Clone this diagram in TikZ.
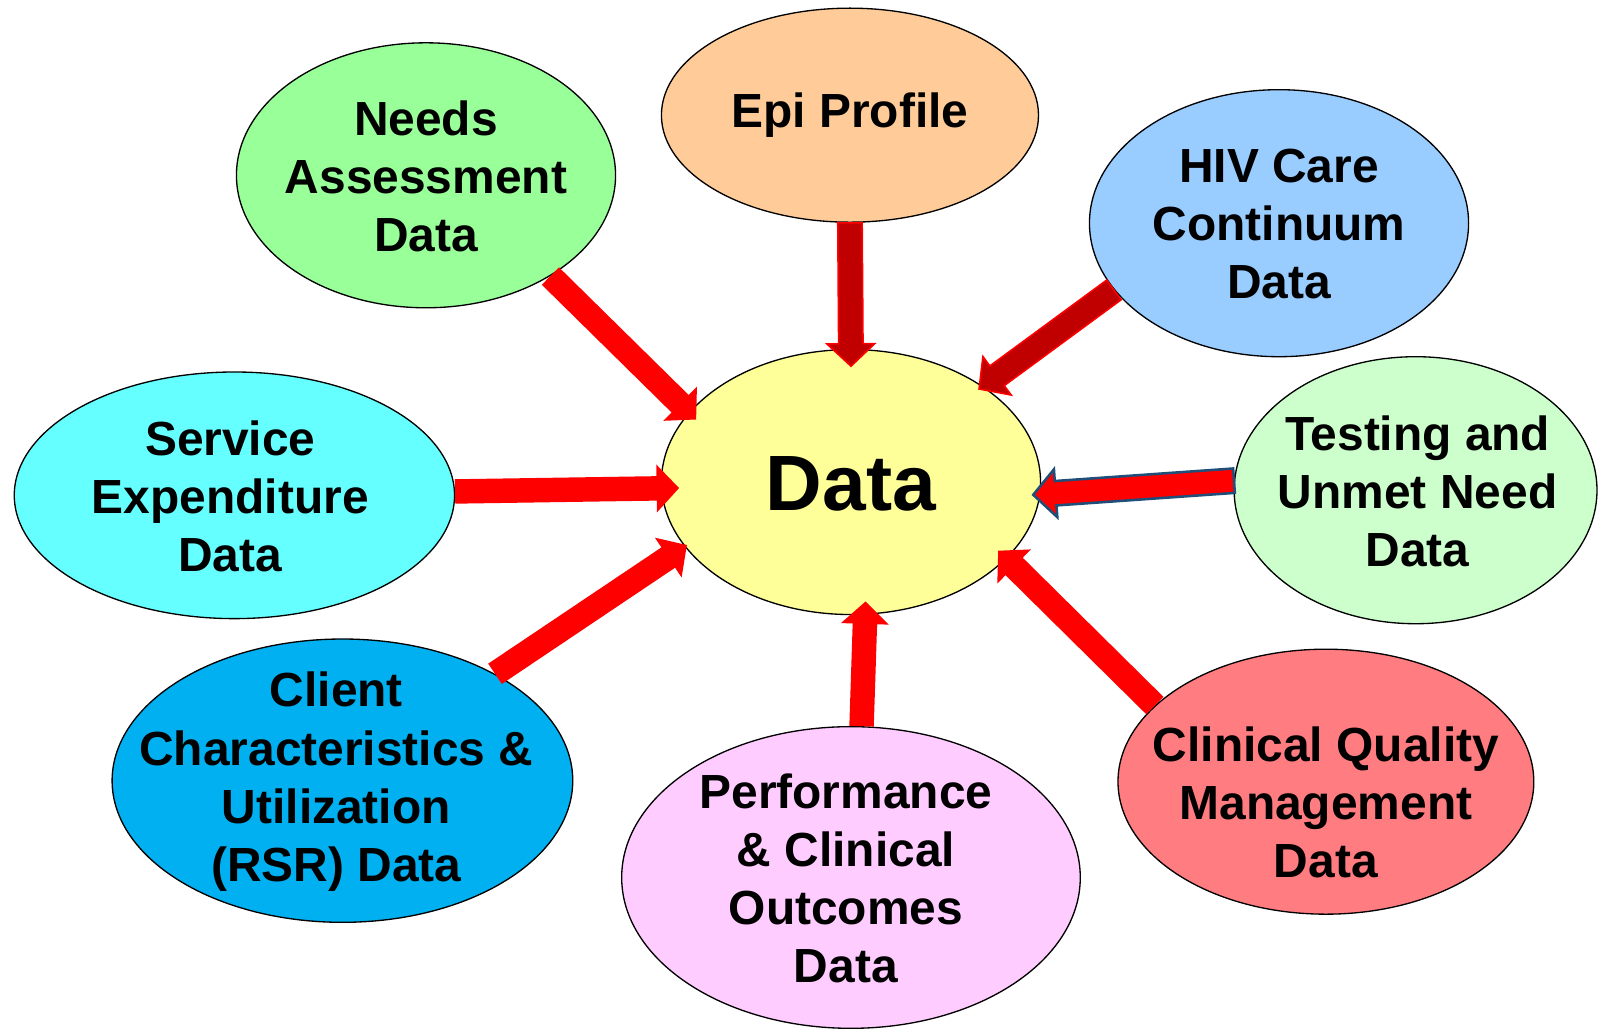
\documentclass[tikz,border=0pt]{standalone}
\usepackage{fontspec}
\setmainfont{Liberation Sans}
\usetikzlibrary{calc,shapes.geometric}
\definecolor{cNeeds}{HTML}{99FF99}
\definecolor{cEpi}{HTML}{FFCC99}
\definecolor{cHiv}{HTML}{99CCFF}
\definecolor{cServ}{HTML}{66FFFF}
\definecolor{cData}{HTML}{FFFF99}
\definecolor{cTest}{HTML}{CCFFCC}
\definecolor{cClient}{HTML}{00B0F0}
\definecolor{cPerf}{HTML}{FFCCFF}
\definecolor{cClin}{HTML}{FF7C80}
\definecolor{cDark}{HTML}{C00000}
\definecolor{cBlueEdge}{HTML}{1F4E79}
\newcommand\blockarrow[3]{%
 \path[#1] let \p1=(#2), \p2=(#3), \n1={atan2(\y2-\y1,\x2-\x1)}, \n2={veclen(\x2-\x1,\y2-\y1)-22} in
 ($(\p1)+(\n1+90:12pt)$) -- ($(\p1)+(\n1:\n2)+(\n1+90:12pt)$) -- ($(\p1)+(\n1:\n2)+(\n1+90:23.5pt)$) -- (\p2) -- ($(\p1)+(\n1:\n2)+(\n1-90:23.5pt)$) -- ($(\p1)+(\n1:\n2)+(\n1-90:12pt)$) -- ($(\p1)+(\n1-90:12pt)$) -- cycle;}
\tikzset{
 bubble/.style={ellipse, draw=black, line width=1.3pt, inner sep=0pt},
 redarrow/.style={fill=red},
 darkarrow/.style={fill=cDark, draw=red, line width=1.5pt, line join=miter},
 bluearrow/.style={fill=red, draw=cBlueEdge, line width=2.5pt, line join=miter},
 lbl/.style={align=center, inner sep=0pt, font=\bfseries\fontsize{47}{57}\selectfont}
}
\begin{document}
\begin{tikzpicture}[x=1pt,y=-1pt]
\fill[white] (0,0) rectangle (1568,1010);
\useasboundingbox (0,0) rectangle (1568,1010);
% ellipses
\node[bubble, fill=cNeeds, minimum width=372pt, minimum height=260pt] (needs) at (418,172) {};
\node[lbl] (needstext) at (418,173) {Needs\\Assessment\\Data};
\node[bubble, fill=cEpi, minimum width=370pt, minimum height=210pt] (epi) at (834,113) {};
\node[lbl] (epitext) at (834,113) {Epi Profile};
\node[bubble, fill=cHiv, minimum width=372pt, minimum height=262pt] (hiv) at (1255,219) {};
\node[lbl] (hivtext) at (1255,220) {HIV Care\\Continuum\\Data};
\node[bubble, fill=cServ, minimum width=432pt, minimum height=242pt] (serv) at (230,486) {};
\node[lbl] (servtext) at (226,487) {Service\\Expenditure\\Data};
\node[bubble, fill=cData, minimum width=372pt, minimum height=260pt] (data) at (835,473) {};
\node[lbl, font=\bfseries\fontsize{77}{80}\selectfont] (datatext) at (835,475) {Data};
\node[bubble, fill=cTest, minimum width=356pt, minimum height=262pt] (test) at (1389,481) {};
\node[lbl] (testtext) at (1391,482) {Testing and\\Unmet Need\\Data};
\node[bubble, fill=cClient, minimum width=452pt, minimum height=278pt] (client) at (336,766) {};
\node[lbl] (clienttext) at (330,767) {Client\\Characteristics \&\\Utilization\\(RSR) Data};
\node[bubble, fill=cPerf, minimum width=450pt, minimum height=296pt] (perf) at (835,861) {};
\node[lbl] (perftext) at (830,862) {Performance\\\& Clinical\\Outcomes\\Data};
\node[bubble, fill=cClin, minimum width=408pt, minimum height=260pt] (clin) at (1301,767) {};
\node[lbl] (clintext) at (1301,787) {Clinical Quality\\Management\\Data};
% arrow tips on the central ellipse
\coordinate (tNeeds) at ($(data.center)!0.94!(data.158)$);
\coordinate (tEpi) at ($(data.center)!0.87!(data.90)$);
\coordinate (tHiv) at ($(data.center)!0.97!(data.36.6)$);
\coordinate (tServ) at ($(data.center)!0.905!(data.182.4)$);
\coordinate (tTest) at ($(data.center)!0.963!(data.-4.2)$);
\coordinate (tClient) at ($(data.center)!0.984!(data.201.2)$);
\coordinate (tPerf) at ($(data.center)!0.90!(data.-83.2)$);
\coordinate (tClin) at ($(data.center)!0.93!(data.-25.9)$);
% arrows
\blockarrow{redarrow}{needs.-39}{tNeeds}
\blockarrow{darkarrow}{epi.-90}{tEpi}
\blockarrow{darkarrow}{hiv.202.6}{tHiv}
\blockarrow{redarrow}{serv.1.6}{tServ}
\blockarrow{bluearrow}{test.177.7}{tTest}
\blockarrow{redarrow}{client.35}{tClient}
\blockarrow{redarrow}{perf.86.5}{tPerf}
\blockarrow{redarrow}{clin.156}{tClin}
\end{tikzpicture}
\end{document}
